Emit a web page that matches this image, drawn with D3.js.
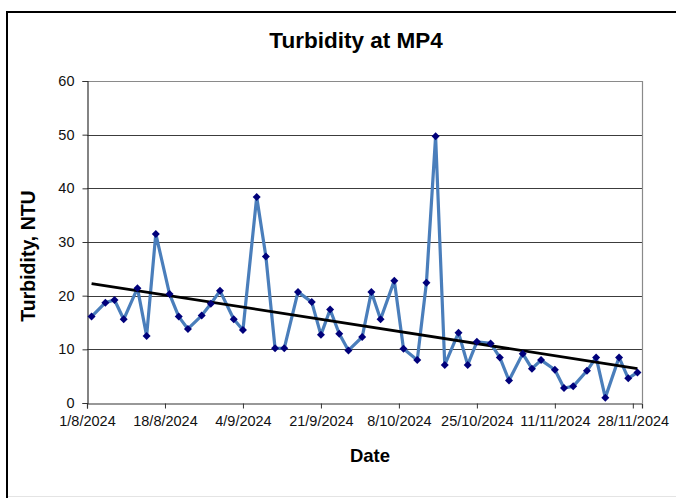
<!DOCTYPE html>
<html>
<head>
<meta charset="utf-8">
<script src="https://cdn.jsdelivr.net/npm/d3@7"></script>
<style>
  html, body { margin: 0; padding: 0; background: #fff; }
  svg { display: block; }
  text { font-family: "Liberation Sans", Arial, sans-serif; }
</style>
</head>
<body>
<svg id="chart" width="676" height="498"></svg>
<script>
// ---- data ----
const sampleDates = [
  "2024-08-02","2024-08-05","2024-08-07","2024-08-09","2024-08-12","2024-08-14","2024-08-16",
  "2024-08-19","2024-08-21","2024-08-23","2024-08-26","2024-08-28","2024-08-30","2024-09-02",
  "2024-09-04","2024-09-07","2024-09-09","2024-09-11","2024-09-13","2024-09-16","2024-09-19",
  "2024-09-21","2024-09-23","2024-09-25","2024-09-27","2024-09-30","2024-10-02","2024-10-04",
  "2024-10-07","2024-10-09","2024-10-12","2024-10-14","2024-10-16","2024-10-18","2024-10-21",
  "2024-10-23","2024-10-25","2024-10-28","2024-10-30","2024-11-01","2024-11-04","2024-11-06",
  "2024-11-08","2024-11-11","2024-11-13","2024-11-15","2024-11-18","2024-11-20","2024-11-22",
  "2024-11-25","2024-11-27","2024-11-29"
];
const turbidity = [
  16.1,18.7,19.2,15.6,21.4,12.5,31.5,
  20.3,16.1,13.8,16.3,18.5,20.9,15.6,
  13.6,38.4,27.3,10.2,10.2,20.7,18.8,
  12.7,17.4,12.9,9.8,12.3,20.7,15.6,
  22.8,10.1,8.0,22.4,49.7,7.1,13.1,
  7.1,11.4,11.1,8.5,4.2,9.2,6.4,
  8.0,6.2,2.8,3.1,6.0,8.5,1.0,
  8.5,4.6,5.7
];
const xTickDates = ["2024-08-01","2024-08-18","2024-09-04","2024-09-21","2024-10-08","2024-10-25","2024-11-11","2024-11-28"];
const xDomain = ["2024-08-01","2024-11-30"];
const yTicks = [0,10,20,30,40,50,60];
const titleText = "Turbidity at MP4";
const xTitle = "Date";
const yTitle = "Turbidity, NTU";

// ---- setup ----
const parse = d3.timeParse("%Y-%m-%d");
const fmt = d3.timeFormat("%-d/%-m/%Y");
const data = sampleDates.map((d, i) => ({ date: parse(d), value: turbidity[i] }));

const svg = d3.select("#chart");
const L = 87, R = 642, T = 81, B = 403;

const x = d3.scaleTime().domain(xDomain.map(parse)).range([L, R]);
const y = d3.scaleLinear().domain([0, 60]).range([B, T]);

// outer chart border
svg.append("rect").attr("x", 0).attr("y", 0).attr("width", 676).attr("height", 498).attr("fill", "#fff");
svg.append("line").attr("x1", 7).attr("x2", 7).attr("y1", 12).attr("y2", 498)
  .attr("stroke", "#000").attr("stroke-width", 2);
svg.append("line").attr("x1", 6).attr("x2", 676).attr("y1", 12).attr("y2", 12)
  .attr("stroke", "#000").attr("stroke-width", 2);
svg.append("line").attr("x1", 8).attr("x2", 676).attr("y1", 496.5).attr("y2", 496.5)
  .attr("stroke", "#e4e4e4").attr("stroke-width", 1);

// gridlines
svg.append("g").selectAll("line").data(yTicks.filter(v => v > 0 && v < 60)).join("line")
  .attr("x1", L).attr("x2", R)
  .attr("y1", d => Math.round(y(d)) + 0.5).attr("y2", d => Math.round(y(d)) + 0.5)
  .attr("stroke", "#3c3c3c").attr("stroke-width", 1.2);

// plot area border top/right
svg.append("path")
  .attr("d", `M${L},${Math.round(y(60)) + 0.5}H${R + 0.5}V${B}`)
  .attr("fill", "none").attr("stroke", "#8a8a8a").attr("stroke-width", 1.2);

// y axis
const yAxis = d3.axisLeft(y).tickValues(yTicks).tickSize(5).tickPadding(8).tickFormat(d3.format("d"));
const gy = svg.append("g").attr("transform", `translate(${L + 0.5},0)`).call(yAxis);
gy.select(".domain").attr("stroke", "#333").attr("stroke-width", 1.2);
gy.selectAll(".tick line").attr("stroke", "#333");
gy.selectAll(".tick text").attr("font-size", "14.5px").attr("fill", "#111")
  .attr("font-family", '"Liberation Sans", Arial, sans-serif');

// x axis
const xAxis = d3.axisBottom(x).tickValues(xTickDates.map(parse)).tickSize(5).tickPadding(7).tickFormat(fmt);
const gx = svg.append("g").attr("transform", `translate(0,${B + 0.5})`).call(xAxis);
gx.select(".domain").attr("stroke", "#333").attr("stroke-width", 1.2);
gx.selectAll(".tick line").attr("stroke", "#333");
gx.selectAll(".tick text").attr("font-size", "14.5px").attr("fill", "#111")
  .attr("font-family", '"Liberation Sans", Arial, sans-serif');

// series line
const line = d3.line().x(d => x(d.date)).y(d => y(d.value));
svg.append("path").datum(data).attr("d", line)
  .attr("fill", "none").attr("stroke", "#4a7ebb").attr("stroke-width", 3.2)
  .attr("stroke-linejoin", "round");

// linear trendline (least squares)
const xs = data.map(d => +d.date), ys = data.map(d => d.value);
const mx = d3.mean(xs), my = d3.mean(ys);
const slope = d3.sum(xs.map((v, i) => (v - mx) * (ys[i] - my))) / d3.sum(xs.map(v => (v - mx) ** 2));
const icpt = my - slope * mx;
const trendPts = [data[0].date, data[data.length - 1].date].map(dt => ({ date: dt, value: icpt + slope * (+dt) }));
svg.append("path").datum(trendPts).attr("d", line)
  .attr("fill", "none").attr("stroke", "#000").attr("stroke-width", 2.8);

// markers (diamonds)
svg.append("g").selectAll("path").data(data).join("path")
  .attr("d", d3.symbol(d3.symbolSquare, 32))
  .attr("transform", d => `translate(${x(d.date)},${y(d.value)}) rotate(45)`)
  .attr("fill", "#00007a");

// titles
svg.append("text").attr("x", 356).attr("y", 48).attr("text-anchor", "middle")
  .attr("font-size", "22.5px").attr("font-weight", "bold").attr("fill", "#000").text(titleText);
svg.append("text").attr("x", 370).attr("y", 462).attr("text-anchor", "middle")
  .attr("font-size", "18.5px").attr("font-weight", "bold").attr("fill", "#000").text(xTitle);
svg.append("text").attr("transform", "translate(35,256) rotate(-90)").attr("text-anchor", "middle")
  .attr("font-size", "19.5px").attr("font-weight", "bold").attr("fill", "#000").text(yTitle);
</script>
</body>
</html>
